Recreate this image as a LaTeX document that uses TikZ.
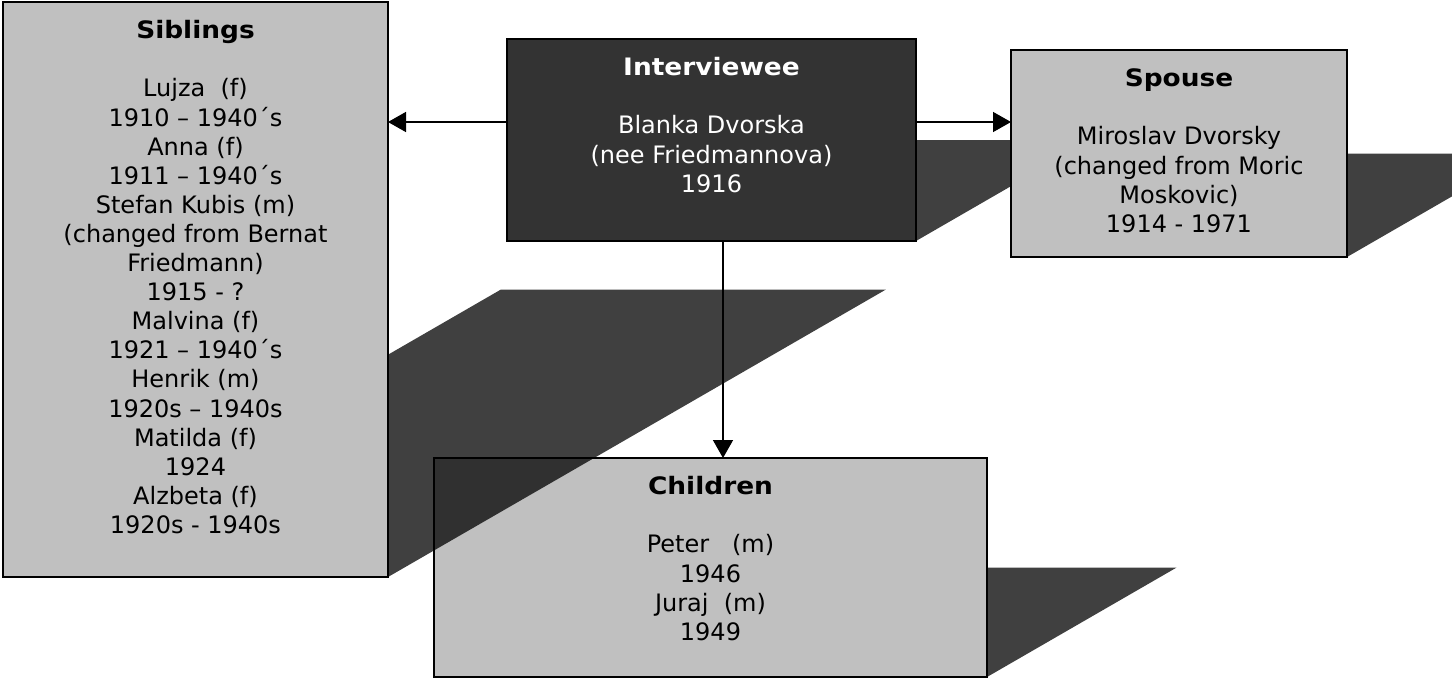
\documentclass[tikz,border=0pt]{standalone}
\usepackage{fontspec}
\setmainfont{DejaVu Sans}[BoldFeatures={FakeStretch=1.1}]
\usetikzlibrary{calc,arrows.meta}
\definecolor{boxgray}{HTML}{C0C0C0}
\definecolor{ivfill}{HTML}{333333}
\newcommand\boxshadow[2]{%
  \fill[shadowfill] (#1.south west) -- (#1.south east)
    -- ($(#1.south east)+(0.866*#2,-0.5*#2)$)
    -- ($(#1.south west)+(0.866*#2,-0.5*#2)$) -- cycle;}
\begin{document}
\begin{tikzpicture}[x=1pt,y=-1pt,
  box/.style={rectangle, draw=black, line width=2pt, fill=boxgray, outer sep=0pt, inner sep=0pt},
  txt/.style={anchor=north, align=center, inner sep=0pt, font=\fontsize{24}{29.1}\selectfont},
  conn/.style={line width=1.5pt, -{Triangle[length=18pt,width=20pt]}},
  shadowfill/.style={fill=black, fill opacity=0.75}]
\useasboundingbox (0,0) rectangle (1452,681);
% children
\node[box, minimum width=553pt, minimum height=219pt] (ch) at (710.5,567.5) {};
\boxshadow{ch}{219}
\node[box, minimum width=553pt, minimum height=219pt] at (ch.center) {};
% siblings
\node[box, minimum width=385pt, minimum height=575pt] (sib) at (195.5,289.5) {};
\boxshadow{sib}{575}
\node[box, minimum width=385pt, minimum height=575pt] at (sib.center) {};
% interviewee
\node[box, fill=ivfill, minimum width=409pt, minimum height=202pt] (iv) at (711.5,140) {};
\boxshadow{iv}{202}
\node[box, fill=ivfill, minimum width=409pt, minimum height=202pt] at (iv.center) {};
% spouse
\node[box, minimum width=336pt, minimum height=207pt] (sp) at (1179,153.5) {};
\boxshadow{sp}{207}
\node[box, minimum width=336pt, minimum height=207pt] at (sp.center) {};
% texts
\node[txt] (sibt) at ($(sib.north)+(0,16.5)$) {\rule{0pt}{20pt}\textbf{Siblings}\\[29.1pt]
Lujza\ \ (f)\\ 1910 – 1940´s\\ Anna (f)\\ 1911 – 1940´s\\ Stefan Kubis (m)\\
(changed from Bernat\\ Friedmann)\\ 1915 - ?\\ Malvina (f)\\ 1921 – 1940´s\\
Henrik (m)\\ 1920s – 1940s\\ Matilda (f)\\ 1924\\ Alzbeta (f)\\ 1920s - 1940s};
\node[txt, text=white] (ivt) at ($(iv.north)+(0,16.5)$) {\rule{0pt}{20pt}\textbf{Interviewee}\\[29.1pt]
Blanka Dvorska\\ (nee Friedmannova)\\ 1916};
\node[txt] (spt) at ($(sp.north)+(0,16.5)$) {\rule{0pt}{20pt}\textbf{Spouse}\\[29.1pt]
Miroslav Dvorsky\\ (changed from Moric\\ Moskovic)\\ 1914 - 1971};
\node[txt] (cht) at ($(ch.north)+(0,16.5)$) {\rule{0pt}{20pt}\textbf{Children}\\[29.1pt]
Peter\ \ \ (m)\\ 1946\\ Juraj\ \ (m)\\ 1949};
% connectors
\coordinate (ay) at (0,122);
\coordinate (ax) at (723,0);
\draw[conn] (iv.west |- ay) -- (sib.east |- ay);
\draw[conn] (iv.east |- ay) -- (sp.west |- ay);
\draw[conn] (iv.south -| ax) -- (ch.north -| ax);
\end{tikzpicture}
\end{document}
